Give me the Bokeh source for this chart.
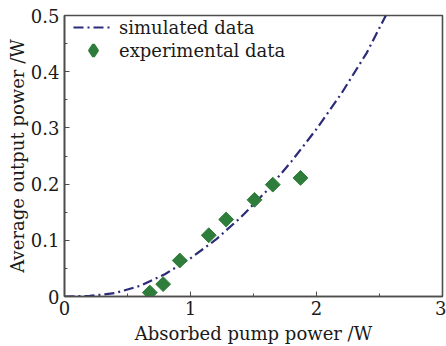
import numpy as np
from bokeh.plotting import figure
from bokeh.models import FixedTicker, Range1d, Legend, LegendItem
from bokeh.embed import file_html
from bokeh.resources import INLINE

# simulated curve
sim_x = [0.0, 0.2, 0.4, 0.6, 0.8, 1.0, 1.2, 1.4, 1.6, 1.8, 2.0, 2.2, 2.4, 2.55]
sim_y = [0.0, 0.001, 0.006, 0.019, 0.040, 0.068, 0.101, 0.141, 0.187, 0.240, 0.298, 0.362, 0.434, 0.500]

# experimental data
exp_x = [0.677, 0.783, 0.915, 1.145, 1.283, 1.508, 1.653, 1.873]
exp_y = [0.007, 0.022, 0.064, 0.109, 0.137, 0.172, 0.199, 0.211]

x_ticks = [0, 1, 2, 3]
x_minor = [0.5, 1.5, 2.5]
y_ticks = [0, 0.1, 0.2, 0.3, 0.4, 0.5]
y_minor = [0.05, 0.15, 0.25, 0.35, 0.45]

FONT = "DejaVu Serif"
TXT = "#1a1a1a"
AX = "#4d4d4d"

p = figure(width=446, height=346, output_backend="svg", toolbar_location=None,
           x_range=Range1d(0, 3), y_range=Range1d(0, 0.5))
p.min_border_left = 64
p.min_border_right = 4
p.min_border_top = 15
p.min_border_bottom = 48
p.background_fill_color = "white"
p.border_fill_color = "white"
p.outline_line_color = AX
p.outline_line_width = 1.6
p.xgrid.visible = False
p.ygrid.visible = False

p.xaxis.ticker = FixedTicker(ticks=x_ticks, minor_ticks=x_minor)
p.yaxis.ticker = FixedTicker(ticks=y_ticks, minor_ticks=y_minor)
p.xaxis.major_label_overrides = {0: "0", 1: "1", 2: "2", 3: "3"}
p.yaxis.major_label_overrides = {0: "0", 0.1: "0.1", 0.2: "0.2", 0.3: "0.3", 0.4: "0.4", 0.5: "0.5"}

for ax in (p.xaxis[0], p.yaxis[0]):
    ax.axis_line_color = AX
    ax.axis_line_width = 1.6
    ax.major_tick_in = 5
    ax.major_tick_out = 0
    ax.minor_tick_in = 3
    ax.minor_tick_out = 0
    ax.major_tick_line_color = AX
    ax.minor_tick_line_color = AX
    ax.major_label_text_font = FONT
    ax.major_label_text_font_size = "18px"
    ax.major_label_text_color = TXT
    ax.axis_label_text_font = FONT
    ax.axis_label_text_font_size = "18px"
    ax.axis_label_text_font_style = "normal"
    ax.axis_label_text_color = TXT

p.xaxis.axis_label = "Absorbed pump power /W"
p.yaxis.axis_label = "Average output power /W"
p.xaxis.major_label_standoff = 4
p.yaxis.major_label_standoff = 5
p.xaxis.axis_label_standoff = 5
p.yaxis.axis_label_standoff = 0

GREEN = "#2e7d3a"
line = p.line(sim_x, sim_y, line_color="#2b2b7a", line_width=2.2, line_dash="10 4 2 4")
# legend proxy (diamond) drawn small underneath the real rotated-square markers
proxy = p.scatter(exp_x, exp_y, marker="diamond", size=4,
                  fill_color=GREEN, line_color=GREEN, line_width=3)
pts = p.scatter(exp_x, exp_y, marker="square", angle=np.pi / 4, size=10.5,
                fill_color=GREEN, line_color=GREEN)


def make_legend(item, loc, gh):
    lg = Legend(items=[item], location=loc)
    lg.margin = 0
    lg.padding = 0
    lg.spacing = 0
    lg.glyph_width = 40
    lg.glyph_height = gh
    lg.label_height = 22
    lg.label_standoff = 6
    lg.border_line_color = None
    lg.background_fill_alpha = 0
    lg.label_text_font = FONT
    lg.label_text_font_size = "18px"
    lg.label_text_color = TXT
    return lg


p.add_layout(make_legend(LegendItem(label="simulated data", renderers=[line]), (9, 258), 22), "center")
p.add_layout(make_legend(LegendItem(label="experimental data", renderers=[proxy]), (9, 231), 30), "center")

open("out.html", "w").write(file_html(p, INLINE))
